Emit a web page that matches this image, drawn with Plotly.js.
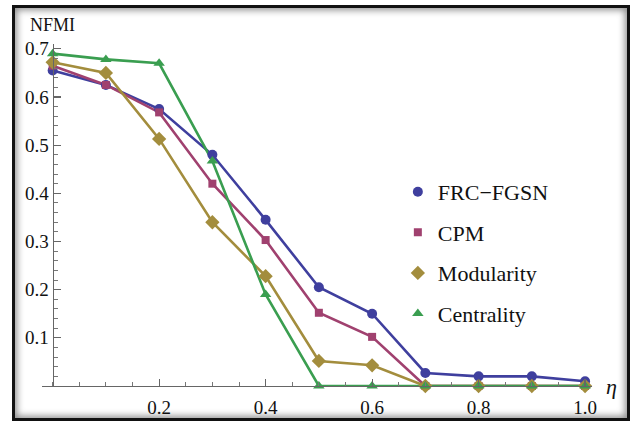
<!DOCTYPE html>
<html>
<head>
<meta charset="utf-8">
<script src="https://cdn.plot.ly/plotly-3.0.1.min.js"></script>
<style>
  html, body { margin: 0; padding: 0; background: #ffffff; }
  #wrap { position: relative; width: 632px; height: 423px; }
  #chart { position: absolute; left: 0; top: 0; width: 632px; height: 423px; }
  #frame { position: absolute; left: 12px; top: 5px; width: 618px; height: 416px; box-sizing: border-box;
           border: 3px solid #111; box-shadow: inset 0 0 7px 2px rgba(0,0,0,0.45); pointer-events: none; }
</style>
</head>
<body>
<div id="wrap">
  <div id="chart"></div>
  <div id="frame"></div>
</div>
<script>
const eta = [0, 0.1, 0.2, 0.3, 0.4, 0.5, 0.6, 0.7, 0.8, 0.9, 1.0];
const frcFgsn    = [0.655, 0.625, 0.575, 0.480, 0.345, 0.205, 0.150, 0.027, 0.020, 0.020, 0.010];
const cpm        = [0.665, 0.625, 0.568, 0.420, 0.303, 0.152, 0.102, 0.000, 0.000, 0.000, 0.000];
const modularity = [0.672, 0.650, 0.513, 0.340, 0.228, 0.052, 0.043, 0.000, 0.000, 0.000, 0.000];
const centrality = [0.690, 0.678, 0.670, 0.467, 0.190, 0.000, 0.000, 0.000, 0.000, 0.000, 0.000];
const seriesNames = ['FRC\u2212FGSN', 'CPM', 'Modularity', 'Centrality'];
const xTickVals = [0.2, 0.4, 0.6, 0.8, 1.0];
const xTickText = ['0.2', '0.4', '0.6', '0.8', '1.0'];
const yTickVals = [0.1, 0.2, 0.3, 0.4, 0.5, 0.6, 0.7];
const yTickText = ['0.1', '0.2', '0.3', '0.4', '0.5', '0.6', '0.7'];

const seriesData = [frcFgsn, cpm, modularity, centrality];
const colors = ['#3f3f9e', '#a0416f', '#a38d3d', '#3a9e50'];
const symbols = ['circle', 'square', 'diamond', 'triangle-up'];
const sizes = [10, 8, 11, 10];

const serif = 'Liberation Serif';
const traces = [];
seriesData.forEach((ys, i) => {
  traces.push({
    x: eta, y: ys, type: 'scatter', mode: 'lines', showlegend: false,
    line: { color: colors[i], width: 2.6 }, cliponaxis: false, hoverinfo: 'skip'
  });
});
seriesData.forEach((ys, i) => {
  traces.push({
    x: eta, y: ys, type: 'scatter', mode: 'markers', name: seriesNames[i],
    legendgroup: 'g' + i,
    marker: { color: colors[i], symbol: symbols[i], size: sizes[i] }, cliponaxis: false
  });
});

const xr = [-0.02, 1.013];
const yPos = (0 - xr[0]) / (xr[1] - xr[0]);

const layout = {
  width: 632, height: 423,
  margin: { l: 42, r: 40, t: 44, b: 37 },
  paper_bgcolor: '#ffffff', plot_bgcolor: '#ffffff',
  font: { family: serif, color: '#111', size: 19 },
  showlegend: true,
  legend: {
    x: 0.647, y: 0.629, xanchor: 'left', yanchor: 'top',
    font: { family: serif, size: 22, color: '#111' },
    traceorder: 'grouped', tracegroupgap: 9,
    bgcolor: 'rgba(0,0,0,0)', borderwidth: 0
  },
  xaxis: {
    range: xr, showgrid: false, zeroline: false,
    showline: true, linecolor: '#666', linewidth: 1.2,
    tickmode: 'array', tickvals: xTickVals, ticktext: xTickText,
    ticks: 'inside', ticklen: 7, tickcolor: '#666', tickwidth: 1.2,
    ticklabelstandoff: 4,
    minor: { dtick: 0.05, tick0: 0, ticks: 'inside', ticklen: 4, tickcolor: '#777', tickwidth: 1 },
    tickfont: { family: serif, size: 19, color: '#111' }
  },
  yaxis: {
    range: [0, 0.71], showgrid: false, zeroline: false,
    anchor: 'free', position: yPos,
    showline: true, linecolor: '#666', linewidth: 1.2,
    tickmode: 'array', tickvals: yTickVals, ticktext: yTickText,
    ticks: 'inside', ticklen: 7, tickcolor: '#666', tickwidth: 1.2,
    minor: { dtick: 0.02, tick0: 0, ticks: 'inside', ticklen: 4, tickcolor: '#777', tickwidth: 1 },
    tickfont: { family: serif, size: 19, color: '#111' }
  },
  annotations: [
    { text: 'NFMI', xref: 'paper', yref: 'paper', x: yPos, y: 1.055, xanchor: 'center', yanchor: 'middle',
      showarrow: false, font: { family: serif, size: 18, color: '#111' } },
    { text: '<i>\u03b7</i>', xref: 'paper', yref: 'paper', x: 1.036, y: 0.0, xanchor: 'center', yanchor: 'middle',
      showarrow: false, font: { family: serif, size: 22, color: '#111' } }
  ]
};

Plotly.newPlot('chart', traces, layout, { displayModeBar: false, staticPlot: true });
</script>
</body>
</html>
